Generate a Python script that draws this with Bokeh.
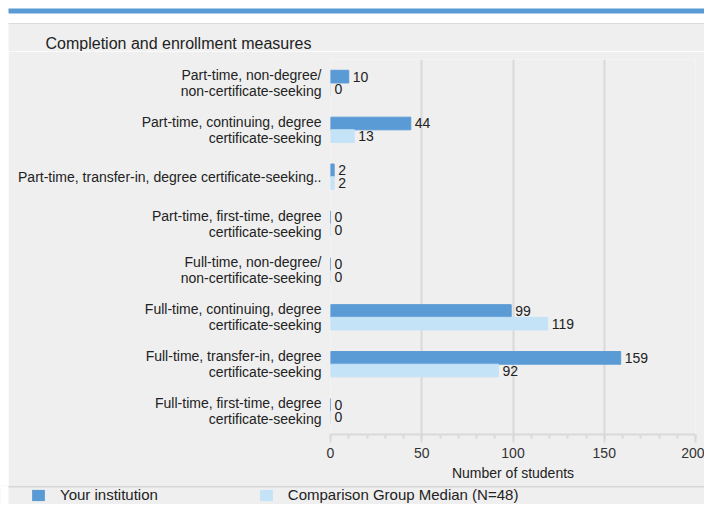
from bokeh.plotting import figure
from bokeh.models import (Range1d, ColumnDataSource, FixedTicker, Legend, LegendItem,
                          SingleIntervalTicker, Spacer)
from bokeh.layouts import column, row
from bokeh.core.properties import value
from bokeh.embed import file_html
from bokeh.resources import INLINE

# ---------------- data ----------------
categories = [
    "Part-time, non-degree/\nnon-certificate-seeking",
    "Part-time, continuing, degree\ncertificate-seeking",
    "Part-time, transfer-in, degree certificate-seeking..",
    "Part-time, first-time, degree\ncertificate-seeking",
    "Full-time, non-degree/\nnon-certificate-seeking",
    "Full-time, continuing, degree\ncertificate-seeking",
    "Full-time, transfer-in, degree\ncertificate-seeking",
    "Full-time, first-time, degree\ncertificate-seeking",
]
your_institution = [10, 44, 2, 0, 0, 99, 159, 0]
comparison_median = [0, 13, 2, 0, 0, 119, 92, 0]
x_ticks = [0, 50, 100, 150, 200]
series_names = ["Your institution", "Comparison Group Median (N=48)"]
title_text = "Completion and enrollment measures"
x_label = "Number of students"

# ---------------- style / geometry ----------------
FONT = "Liberation Sans"
DARK = "#5b9bd5"
LIGHT = "#c5e3f7"
BG = "#efefef"
GRID = "#d9d9d9"
TXT = "#222222"
W = 704
TOP_H = 51
MAIN_H = 434
LEG_H = 19
LEFT_W = 8


def blank_fig(w, h, bg):
    f = figure(width=w, height=h, output_backend="svg", toolbar_location=None,
               x_range=Range1d(0, w), y_range=Range1d(h, 0),
               x_axis_location=None, y_axis_location=None,
               min_border=0, min_border_left=0, min_border_right=0,
               min_border_top=0, min_border_bottom=0)
    f.background_fill_color = bg
    f.border_fill_color = bg
    f.outline_line_color = None
    f.grid.visible = False
    return f


# ---- top strip: blue bar + title ----
top = blank_fig(W, TOP_H, "white")
top.quad(left=8, right=W, top=8, bottom=13, fill_color=DARK, line_color=None)
top.quad(left=8, right=W, top=23, bottom=TOP_H, fill_color=BG, line_color=None)
top.quad(left=8, right=W, top=22.5, bottom=23.5, fill_color="#dcdcdc", line_color=None)
top.text(x=[45], y=[43], text=[title_text], text_baseline="middle", text_align="left",
         text_font=value(FONT), text_font_size="16px", text_color=TXT)

# ---- main chart ----
N = len(categories)
p = figure(width=W - LEFT_W, height=MAIN_H, output_backend="svg", toolbar_location=None,
           x_range=Range1d(x_ticks[0], x_ticks[-1]),
           y_range=Range1d(N - 0.5, -0.5),
           min_border_left=322, min_border_right=9,
           min_border_top=8, min_border_bottom=MAIN_H - 8 - 375)
p.background_fill_color = BG
p.border_fill_color = BG
p.outline_line_color = None
p.ygrid.visible = False
p.xgrid.grid_line_color = GRID
p.xgrid.grid_line_width = 2

ax = p.xaxis[0]
ax.ticker = SingleIntervalTicker(interval=50, num_minor_ticks=5)
ax.axis_line_color = GRID
ax.axis_line_width = 2
ax.major_tick_line_color = GRID
ax.major_tick_line_width = 2
ax.major_tick_in = 0
ax.major_tick_out = 8
ax.minor_tick_line_color = GRID
ax.minor_tick_line_width = 2
ax.minor_tick_in = 0
ax.minor_tick_out = 4
ax.major_label_text_font = FONT
ax.major_label_text_font_size = "14px"
ax.major_label_text_color = "#333333"
ax.major_label_standoff = 5
ax.axis_label = x_label
ax.axis_label_text_font = FONT
ax.axis_label_text_font_size = "14px"
ax.axis_label_text_font_style = "normal"
ax.axis_label_text_color = TXT
ax.axis_label_standoff = 4

yax = p.yaxis[0]
yax.ticker = FixedTicker(ticks=list(range(N)))
yax.major_label_overrides = {i: c for i, c in enumerate(categories)}
yax.axis_line_color = None
yax.major_tick_line_color = None
yax.minor_tick_line_color = None
yax.major_tick_in = 0
yax.major_tick_out = 0
yax.major_label_standoff = 9
yax.major_label_text_font = FONT
yax.major_label_text_font_size = "14px"
yax.major_label_text_line_height = 1.0
yax.major_label_text_color = TXT

idx = list(range(N))
off = 0.135
src = ColumnDataSource(dict(
    yd=[i - off for i in idx], yl=[i + off for i in idx],
    yi=your_institution, cm=comparison_median,
    yi_t=[str(v) for v in your_institution],
    cm_t=[str(v) for v in comparison_median],
))
bh = 0.27
p.hbar(y="yd", left=0, right="yi", height=bh, source=src,
       fill_color=DARK, line_color=DARK, line_width=1)
p.hbar(y="yl", left=0, right="cm", height=bh, source=src,
       fill_color=LIGHT, line_color=LIGHT, line_width=1)
p.text(x="yi", y="yd", text="yi_t", source=src, x_offset=4,
       text_baseline="middle", text_font=value(FONT), text_font_size="14px",
       text_color=TXT)
p.text(x="cm", y="yl", text="cm_t", source=src, x_offset=4,
       text_baseline="middle", text_font=value(FONT), text_font_size="14px",
       text_color=TXT)

# ---- legend strip ----
lg = blank_fig(W, LEG_H, BG)
lg.quad(left=0, right=8, top=0, bottom=LEG_H, fill_color="white", line_color=None)
lg.quad(left=8, right=W, top=0, bottom=2, fill_color="#d6d6d6", line_color=None)
# swatch renderers for the legend (kept outside the visible range)
r1 = lg.quad(left=[-60], right=[-50], top=[0], bottom=[5], fill_color=DARK, line_color=None)
r2 = lg.quad(left=[-60], right=[-50], top=[0], bottom=[5], fill_color=LIGHT, line_color=None)
leg = Legend(items=[LegendItem(label=series_names[0], renderers=[r1]),
                    LegendItem(label=series_names[1], renderers=[r2])],
             orientation="horizontal", location=(30, 1),
             margin=0, padding=0, spacing=100,
             glyph_width=16, glyph_height=14, label_standoff=14,
             label_text_font=FONT, label_text_font_size="15px",
             label_text_color=TXT, label_height=14,
             background_fill_alpha=0, border_line_color=None)
lg.add_layout(leg)

main_row = row(Spacer(width=LEFT_W, height=MAIN_H), p, spacing=0)
layout = column(top, main_row, lg, spacing=0)

open("out.html", "w").write(file_html(layout, INLINE))
